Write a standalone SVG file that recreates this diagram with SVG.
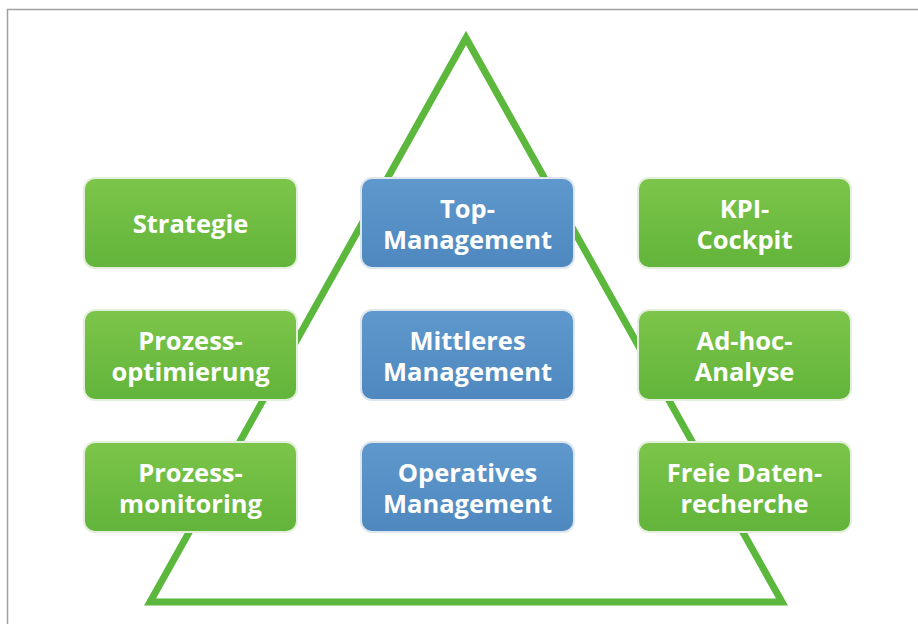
<svg xmlns="http://www.w3.org/2000/svg" width="918" height="624" viewBox="0 0 918 624">
  <defs>
    <linearGradient id="gGreen" x1="0" y1="0" x2="0" y2="1">
      <stop offset="0" stop-color="#7cc54a"/>
      <stop offset="1" stop-color="#62b43a"/>
    </linearGradient>
    <linearGradient id="gBlue" x1="0" y1="0" x2="0" y2="1">
      <stop offset="0" stop-color="#5f98cc"/>
      <stop offset="1" stop-color="#4f88bf"/>
    </linearGradient>
  </defs>
  <style>
    .frame { stroke: #a0a0a0; stroke-width: 1.5; fill: none; }
    .tri { fill: none; stroke: #5cb83c; stroke-width: 7; stroke-linejoin: miter; }
    .g { fill: url(#gGreen); stroke: #e4eedd; stroke-width: 2; }
    .b { fill: url(#gBlue); stroke: #dde6ee; stroke-width: 2; }
    text { font-family: "Open Sans", "Noto Sans", "DejaVu Sans", sans-serif; font-weight: bold; font-size: 25.5px; fill: #ffffff; text-anchor: middle; }
  </style>
  <rect width="918" height="624" fill="#ffffff"/>
  <!-- page frame -->
  <path class="frame" d="M918 9.5 H7.5 V624"/>

  <!-- pyramid outline -->
  <polygon class="tri" points="466,38 150,602 782,602"/>

  <!-- left column -->
  <g id="strategie">
    <rect class="g" x="84" y="178" width="213" height="90" rx="11"/>
    <text x="190.5" y="233">Strategie</text>
  </g>
  <g id="prozessoptimierung">
    <rect class="g" x="84" y="310" width="213" height="90" rx="11"/>
    <text x="190.5" y="350">Prozess-</text>
    <text x="190.5" y="381">optimierung</text>
  </g>
  <g id="prozessmonitoring">
    <rect class="g" x="84" y="442" width="213" height="90" rx="11"/>
    <text x="190.5" y="482">Prozess-</text>
    <text x="190.5" y="513">monitoring</text>
  </g>

  <!-- middle column -->
  <g id="top-management">
    <rect class="b" x="361" y="178" width="213" height="90" rx="11"/>
    <text x="467.5" y="218">Top-</text>
    <text x="467.5" y="249">Management</text>
  </g>
  <g id="mittleres-management">
    <rect class="b" x="361" y="310" width="213" height="90" rx="11"/>
    <text x="467.5" y="350">Mittleres</text>
    <text x="467.5" y="381">Management</text>
  </g>
  <g id="operatives-management">
    <rect class="b" x="361" y="442" width="213" height="90" rx="11"/>
    <text x="467.5" y="482">Operatives</text>
    <text x="467.5" y="513">Management</text>
  </g>

  <!-- right column -->
  <g id="kpi-cockpit">
    <rect class="g" x="638" y="178" width="213" height="90" rx="11"/>
    <text x="744.5" y="218">KPI-</text>
    <text x="744.5" y="249">Cockpit</text>
  </g>
  <g id="ad-hoc-analyse">
    <rect class="g" x="638" y="310" width="213" height="90" rx="11"/>
    <text x="744.5" y="350">Ad-hoc-</text>
    <text x="744.5" y="381">Analyse</text>
  </g>
  <g id="freie-datenrecherche">
    <rect class="g" x="638" y="442" width="213" height="90" rx="11"/>
    <text x="744.5" y="482">Freie Daten-</text>
    <text x="744.5" y="513">recherche</text>
  </g>
</svg>
